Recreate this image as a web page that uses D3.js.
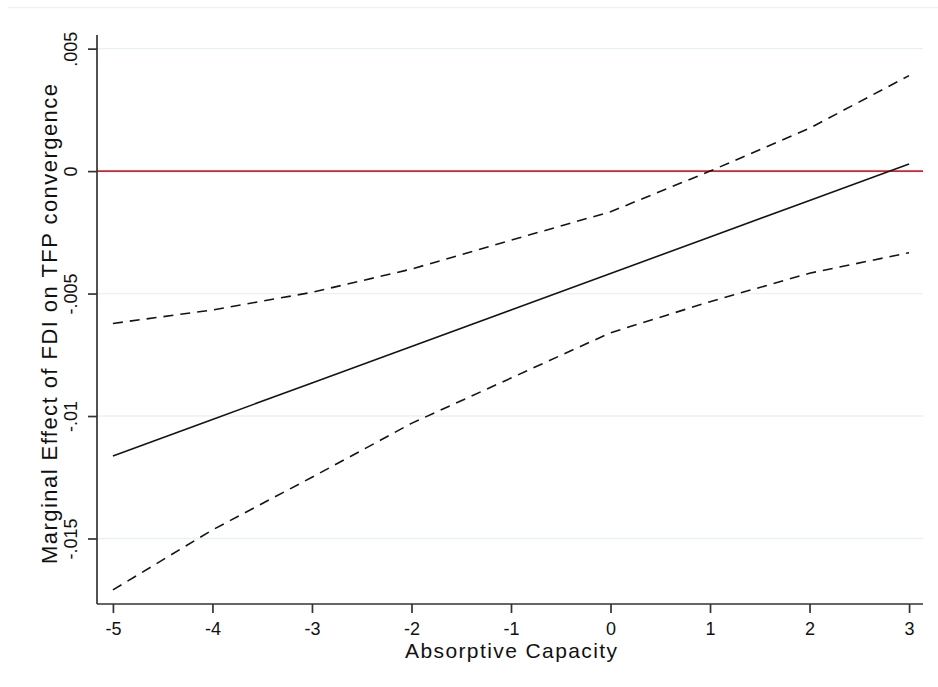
<!DOCTYPE html>
<html>
<head>
<meta charset="utf-8">
<script src="https://cdn.jsdelivr.net/npm/d3@7"></script>
<style>
  body { margin: 0; background: #fff; }
  svg { display: block; font-family: "Liberation Sans", Arial, sans-serif; }
</style>
</head>
<body>
<div id="chart"></div>
<script>
// values
const capacity = [-5, -4, -3, -2, -1, 0, 1, 2, 3];
const effect = [-0.01163, -0.01014, -0.00865, -0.00716, -0.00567, -0.00418, -0.00269, -0.00120, 0.00029];
const upperCI = [-0.00622, -0.00567, -0.00495, -0.00400, -0.00282, -0.00166, 0.00000, 0.00175, 0.00390];
const lowerCI = [-0.01710, -0.01465, -0.01250, -0.01030, -0.00845, -0.00660, -0.00533, -0.00417, -0.00333];

const xTicks = [-5, -4, -3, -2, -1, 0, 1, 2, 3];
const yTicks = [0.005, 0, -0.005, -0.01, -0.015];
const yTickLabels = [".005", "0", "-.005", "-.01", "-.015"];
const gridTicks = [0.005, -0.005, -0.01, -0.015];

const W = 938, H = 687;
const plot = { left: 97, right: 923, top: 35, bottom: 604 };

const svg = d3.select("#chart").append("svg")
    .attr("width", W)
    .attr("height", H);

svg.append("rect").attr("width", W).attr("height", H).attr("fill", "#fff");

// faint frame line at the top of the graph region
svg.append("line")
    .attr("x1", 8).attr("x2", W)
    .attr("y1", 7.5).attr("y2", 7.5)
    .attr("stroke", "#edf3f5").attr("stroke-width", 1.5);

const x = d3.scaleLinear().domain([-5.16, 3.14]).range([plot.left, plot.right]);
const y = d3.scaleLinear().domain([-0.017675, 0.005557]).range([plot.bottom, plot.top]);

// gridlines
svg.append("g").selectAll("line")
    .data(gridTicks)
    .enter().append("line")
    .attr("x1", plot.left).attr("x2", plot.right)
    .attr("y1", d => y(d)).attr("y2", d => y(d))
    .attr("stroke", "#e8f1f4")
    .attr("stroke-width", 1.3);

// zero reference line
svg.append("line")
    .attr("x1", plot.left).attr("x2", plot.right)
    .attr("y1", y(0)).attr("y2", y(0))
    .attr("stroke", "#d3222f")
    .attr("stroke-width", 1.7);

const pts = vals => vals.map((v, i) => ({ cap: capacity[i], value: v }));
const line = d3.line().x(d => x(d.cap)).y(d => y(d.value));

svg.append("path")
    .attr("d", line(pts(upperCI)))
    .attr("fill", "none").attr("stroke", "#141414")
    .attr("stroke-width", 1.6).attr("stroke-dasharray", "10,7");

svg.append("path")
    .attr("d", line(pts(lowerCI)))
    .attr("fill", "none").attr("stroke", "#141414")
    .attr("stroke-width", 1.6).attr("stroke-dasharray", "10,7");

svg.append("path")
    .attr("d", line(pts(effect)))
    .attr("fill", "none").attr("stroke", "#141414")
    .attr("stroke-width", 1.6);

// axes
const gx = svg.append("g")
    .attr("transform", `translate(0,${plot.bottom})`)
    .call(d3.axisBottom(x).tickValues(xTicks).tickSize(9).tickSizeOuter(0)
        .tickFormat(d => d3.format("d")(d).replace("−", "-")));

const gy = svg.append("g")
    .attr("transform", `translate(${plot.left},0)`)
    .call(d3.axisLeft(y).tickValues(yTicks).tickSize(9).tickSizeOuter(0)
        .tickFormat((d, i) => yTickLabels[i]));

[gx, gy].forEach(g => {
    g.select(".domain").attr("stroke", "#333").attr("stroke-width", 1.7);
    g.selectAll(".tick line").attr("stroke", "#333").attr("stroke-width", 1.7);
    g.selectAll(".tick text")
        .attr("fill", "#111")
        .style("font-size", "18px")
        .style("font-family", "\"Liberation Sans\", Arial, sans-serif");
});

// axis lines run across the whole plot region
gx.select(".domain").attr("d", `M${plot.left},0H${plot.right}`);
gy.select(".domain").attr("d", `M0,${plot.top}V${plot.bottom}`);

gx.selectAll(".tick text").attr("dy", 0).attr("y", 30.5);

// Stata style vertical tick labels
gy.selectAll(".tick text")
    .attr("transform", "rotate(-90)")
    .attr("text-anchor", "middle")
    .attr("x", 0)
    .attr("y", -20)
    .attr("dy", 0);

// axis titles
svg.append("text")
    .attr("x", 511).attr("y", 658)
    .attr("text-anchor", "middle")
    .attr("textLength", 212).attr("lengthAdjust", "spacing")
    .style("font-size", "21px")
    .attr("fill", "#111")
    .text("Absorptive Capacity");

svg.append("text")
    .attr("transform", "translate(57,324) rotate(-90)")
    .attr("text-anchor", "middle")
    .attr("textLength", 480).attr("lengthAdjust", "spacing")
    .style("font-size", "22px")
    .attr("fill", "#111")
    .text("Marginal Effect of FDI on TFP convergence");
</script>
</body>
</html>
